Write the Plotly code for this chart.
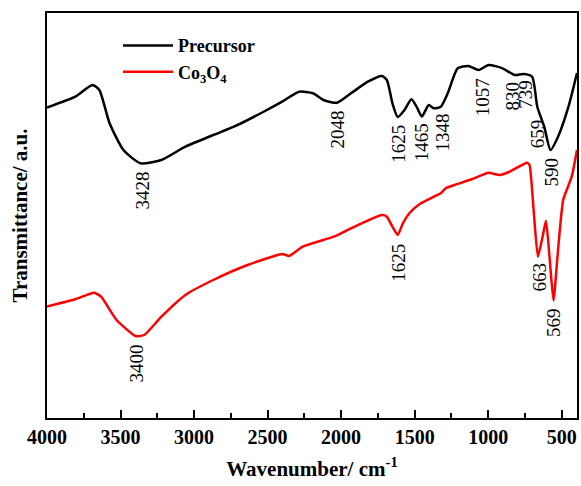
import plotly.graph_objects as go

# Precursor spectrum (wavenumber cm-1, transmittance a.u.)
prec_wn = [4000, 3808, 3691, 3644, 3575, 3480, 3364, 3222, 3059, 2869, 2729, 2543, 2401,
           2286, 2191, 2120, 2028, 1933, 1818, 1723, 1689, 1651, 1615, 1569, 1522, 1487,
           1451, 1404, 1370, 1322, 1275, 1207, 1135, 1065, 997, 902, 820, 759, 701, 666,
           619, 576, 525, 454, 396]
prec_t = [310.5, 321.3, 333, 328, 295, 268, 254.7, 258, 271.3, 283, 291.3, 305, 316.3,
          326.3, 324.7, 318, 315.3, 324.7, 336.3, 342, 338, 314.7, 301, 308, 318.7, 311.3,
          301.5, 313, 309.7, 311.3, 324.7, 349.7, 352, 348, 353, 349.7, 343, 344, 341.3, 311.3,
          291.3, 268, 281.3, 311.3, 345]

# Co3O4 spectrum
co_wn = [4000, 3808, 3679, 3632, 3527, 3398, 3339, 3222, 3059, 2870, 2636, 2401, 2353,
         2261, 2050, 1933, 1723, 1689, 1651, 1615, 1580, 1533, 1465, 1370, 1322, 1289,
         1229, 1112, 997, 922, 854, 736, 719, 691, 662, 630, 607, 583, 556, 525, 490, 432, 396]
co_t = [111.5, 118.7, 125.3, 121.3, 98, 82, 83, 101.3, 123, 138, 153, 164, 162,
        171.3, 181.3, 189.7, 203, 201.3, 191.3, 183, 194.7, 205.3, 214, 221.3, 224.7, 229.7,
        233, 238.7, 245.3, 243, 246.3, 255.3, 253, 208, 161.3, 181.3, 197.3, 161.3, 117.3,
        168, 218, 241.3, 268]

# Peak labels: text, label x (cm-1), label y (a.u.)
peak_text = ["3428", "2048", "1625", "1465", "1348", "1057", "830", "739", "659", "590",
             "1625", "663", "569", "3400"]
peak_x = [3351, 2031, 1615, 1451, 1311, 1041, 841, 748, 666, 572, 1615, 654, 556, 3398]
peak_y = [228, 288, 274, 275.5, 286, 321, 322, 323.5, 284, 245.5, 155, 140.5, 95.5, 54]

x_ticks = [4000, 3500, 3000, 2500, 2000, 1500, 1000, 500]

FONT = "Liberation Serif, Times New Roman, serif"

fig = go.Figure()
fig.add_trace(go.Scatter(x=prec_wn, y=prec_t, mode="lines", name="Precursor",
                         line=dict(color="black", width=2.5, shape="spline", smoothing=0.6)))
fig.add_trace(go.Scatter(x=co_wn, y=co_t, mode="lines", name="Co<sub>3</sub>O<sub>4</sub>",
                         line=dict(color="#ff0000", width=2.5, shape="spline", smoothing=0.5)))

for t, x, y in zip(peak_text, peak_x, peak_y):
    fig.add_annotation(x=x, y=y, text=t, showarrow=False, textangle=-90,
                       xanchor="center", yanchor="middle",
                       font=dict(family=FONT, size=19, color="black"))

fig.update_layout(
    width=581, height=486,
    margin=dict(l=47, r=4, t=13, b=68),
    plot_bgcolor="white", paper_bgcolor="white",
    font=dict(family=FONT, color="black"),
    showlegend=True,
    legend=dict(x=0.134, y=0.965, xanchor="left", yanchor="top",
                bgcolor="rgba(0,0,0,0)", borderwidth=0,
                font=dict(family=FONT, size=18, color="black", weight="bold"),
                tracegroupgap=0, itemwidth=50),
    xaxis=dict(range=[4000, 396], tickvals=x_ticks, ticktext=[str(v) for v in x_ticks],
               ticks="inside", ticklen=8, tickwidth=2, tickcolor="black",
               minor=dict(dtick=250, tick0=0, ticks="inside", ticklen=5, tickwidth=2,
                          tickcolor="black", showgrid=False),
               showline=True, linecolor="black", linewidth=2, mirror=True,
               showgrid=False, zeroline=False,
               tickfont=dict(family=FONT, size=20, color="black", weight="bold"),
               title=dict(text="Wavenumber/ cm<sup>-1</sup>", standoff=14,
                          font=dict(family=FONT, size=21, color="black", weight="bold")),
               automargin=False),
    yaxis=dict(range=[0, 405], showticklabels=False, ticks="",
               showline=True, linecolor="black", linewidth=2, mirror=True,
               showgrid=False, zeroline=False,
               title=dict(text="Transmittance/ a.u.", standoff=12,
                          font=dict(family=FONT, size=21, color="black", weight="bold")),
               automargin=False),
)

fig.write_html("out.html")
